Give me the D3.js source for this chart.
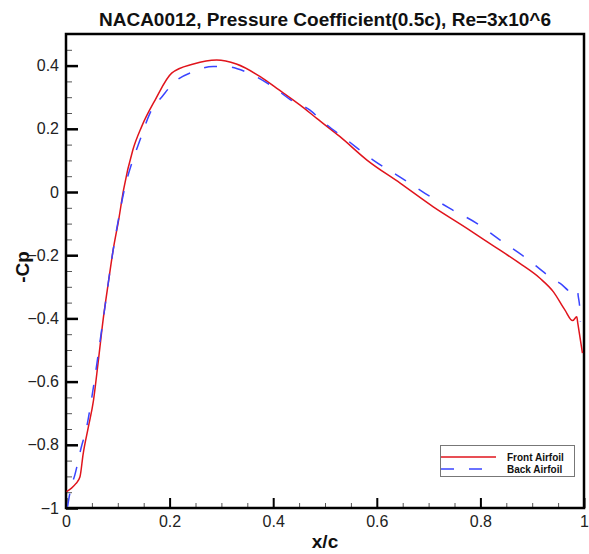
<!DOCTYPE html>
<html><head><meta charset="utf-8">
<script src="https://cdn.jsdelivr.net/npm/d3@7"></script>
<style>body{margin:0;background:#fff}svg{display:block}text{font-family:Arial,"Liberation Sans",sans-serif}</style>
</head><body>
<script>
const titleText = "NACA0012, Pressure Coefficient(0.5c), Re=3x10^6";
const xLabel = "x/c";
const yLabel = "-Cp";
const seriesNames = ["Front Airfoil", "Back Airfoil"];
const xTicks = [0, 0.2, 0.4, 0.6, 0.8, 1];
const yTicks = [-1, -0.8, -0.6, -0.4, -0.2, 0, 0.2, 0.4];

const frontX = [0.001,0.010,0.019,0.027,0.033,0.043,0.053,0.062,0.072,0.082,0.091,0.102,0.111,0.129,0.146,0.172,0.204,0.246,0.291,0.329,0.375,0.407,0.452,0.484,0.529,0.581,0.645,0.709,0.774,0.806,0.838,0.876,0.915,0.941,0.963,0.978,0.986,0.988,0.997];
const frontY = [-0.948,-0.938,-0.923,-0.901,-0.830,-0.745,-0.660,-0.540,-0.400,-0.284,-0.184,-0.085,0.006,0.133,0.207,0.291,0.376,0.405,0.418,0.405,0.365,0.328,0.275,0.233,0.175,0.101,0.028,-0.047,-0.115,-0.150,-0.184,-0.226,-0.273,-0.316,-0.373,-0.407,-0.395,-0.415,-0.510];

const backX = [0.003,0.010,0.017,0.029,0.040,0.050,0.072,0.091,0.101,0.114,0.127,0.143,0.162,0.188,0.207,0.246,0.284,0.307,0.346,0.394,0.439,0.471,0.492,0.542,0.593,0.645,0.693,0.741,0.793,0.838,0.889,0.934,0.954,0.979,0.987,0.989,0.992,0.993];
const backY = [-0.996,-0.933,-0.896,-0.811,-0.743,-0.648,-0.400,-0.184,-0.089,0.017,0.091,0.165,0.249,0.307,0.344,0.381,0.397,0.397,0.381,0.339,0.286,0.259,0.228,0.165,0.101,0.047,-0.004,-0.052,-0.099,-0.152,-0.210,-0.268,-0.289,-0.319,-0.308,-0.331,-0.373,-0.410];

const W = 589, H = 554;
const m = {left: 66, right: 5, top: 34, bottom: 46};
const svg = d3.select("body").append("svg").attr("width", W).attr("height", H);

const x = d3.scaleLinear().domain([0, 1]).range([m.left, W - m.right]);
const y = d3.scaleLinear().domain([-1, 0.5]).range([H - m.bottom, m.top]);

const xMinor = d3.range(0, 1.0001, 0.05).map(v => +v.toFixed(2)).filter(v => !xTicks.some(t => Math.abs(t - v) < 1e-6));
const yMinor = d3.range(-1, 0.5001, 0.05).map(v => +v.toFixed(2)).filter(v => !yTicks.some(t => Math.abs(t - v) < 1e-6) && v < 0.5);

const gx = svg.append("g").attr("transform", `translate(0,${y(-1)})`);
gx.call(d3.axisBottom(x).tickValues(xMinor).tickSize(-5).tickFormat(""))
  .call(g => g.select(".domain").remove())
  .call(g => g.selectAll(".tick line").attr("stroke", "#555").attr("stroke-width", 1));
const gx2 = svg.append("g").attr("transform", `translate(0,${y(-1)})`);
gx2.call(d3.axisBottom(x).tickValues(xTicks).tickSize(-10).tickPadding(8).tickFormat(d3.format("~g")))
  .call(g => g.select(".domain").remove())
  .call(g => g.selectAll(".tick line").attr("stroke", "#000").attr("stroke-width", 2))
  .call(g => g.selectAll(".tick text").attr("font-size", 16).attr("fill", "#222"));

const gy = svg.append("g").attr("transform", `translate(${x(0)},0)`);
gy.call(d3.axisLeft(y).tickValues(yMinor).tickSize(-6).tickFormat(""))
  .call(g => g.select(".domain").remove())
  .call(g => g.selectAll(".tick line").attr("stroke", "#555").attr("stroke-width", 1));
const gy2 = svg.append("g").attr("transform", `translate(${x(0)},0)`);
gy2.call(d3.axisLeft(y).tickValues(yTicks).tickSize(-12).tickPadding(7).tickFormat(d3.format("~g")))
  .call(g => g.select(".domain").remove())
  .call(g => g.selectAll(".tick line").attr("stroke", "#000").attr("stroke-width", 2.5))
  .call(g => g.selectAll(".tick text").attr("font-size", 16).attr("fill", "#222"));

svg.append("rect").attr("x", x(0)).attr("y", y(0.5)).attr("width", x(1) - x(0)).attr("height", y(-1) - y(0.5))
  .attr("fill", "none").attr("stroke", "#000").attr("stroke-width", 2.5);

svg.append("clipPath").attr("id", "c").append("rect")
  .attr("x", x(0)).attr("y", y(0.5)).attr("width", x(1) - x(0)).attr("height", y(-1) - y(0.5));

const line = d3.line().curve(d3.curveMonotoneX).x(d => x(d[0])).y(d => y(d[1]));
const front = frontX.map((v, i) => [v, frontY[i]]);
const back = backX.map((v, i) => [v, backY[i]]);

const plot = svg.append("g").attr("clip-path", "url(#c)");
plot.append("path").datum(front).attr("d", line).attr("fill", "none").attr("stroke", "#e0141c").attr("stroke-width", 1.5);
plot.append("path").datum(back).attr("d", line).attr("fill", "none").attr("stroke", "#3a44ff").attr("stroke-width", 1.5).attr("stroke-dasharray", "13,15");

svg.append("text").attr("x", (x(0) + x(1)) / 2).attr("y", 26).attr("text-anchor", "middle")
  .attr("font-size", 19).attr("font-weight", "bold").attr("fill", "#111").text(titleText);
svg.append("text").attr("x", (x(0) + x(1)) / 2).attr("y", 548).attr("text-anchor", "middle")
  .attr("font-size", 19).attr("font-weight", "bold").attr("fill", "#111").text(xLabel);
svg.append("text").attr("transform", `translate(29,${(y(-1) + y(0.5)) / 2 - 4}) rotate(-90)`).attr("text-anchor", "middle")
  .attr("font-size", 19).attr("font-weight", "bold").attr("fill", "#111").text(yLabel);

const lg = svg.append("g");
lg.append("rect").attr("x", 440.5).attr("y", 445.5).attr("width", 134).attr("height", 31)
  .attr("fill", "#fff").attr("stroke", "#777").attr("stroke-width", 1);
const colors = ["#e0141c", "#3a44ff"];
seriesNames.forEach((n, i) => {
  const yy = 457 + i * 12;
  lg.append("line").attr("x1", 441).attr("x2", 496).attr("y1", yy).attr("y2", yy)
    .attr("stroke", colors[i]).attr("stroke-width", 1.5).attr("stroke-dasharray", i ? "13,15" : null);
  lg.append("text").attr("x", 507).attr("y", yy + 4).attr("font-size", 10).attr("font-weight", "bold")
    .attr("fill", "#111").text(n);
});
</script>
</body></html>
